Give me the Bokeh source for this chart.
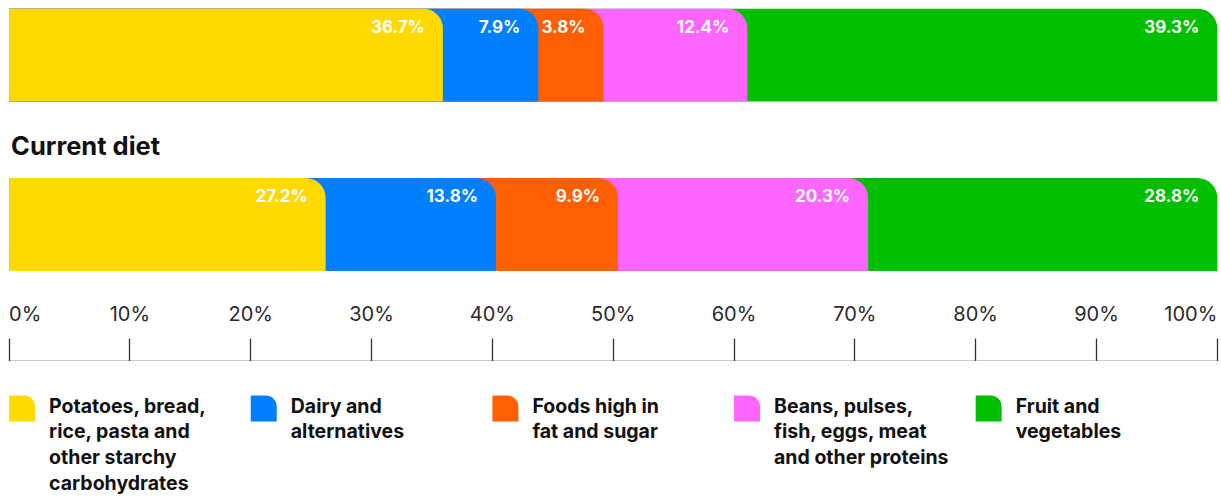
import numpy as np
from bokeh.plotting import figure
from bokeh.models import Range1d, ColumnDataSource, FixedTicker
from bokeh.layouts import column
from bokeh.embed import file_html
from bokeh.resources import INLINE
from bokeh.core.properties import value

# ---------------- data ----------------
categories = [
    "Potatoes, bread,\nrice, pasta and\nother starchy\ncarbohydrates",
    "Dairy and\nalternatives",
    "Foods high in\nfat and sugar",
    "Beans, pulses,\nfish, eggs, meat\nand other proteins",
    "Fruit and\nvegetables",
]
colors = ["#FFD900", "#0080FF", "#FF5F00", "#FF66FF", "#00BF00"]
# printed percentages
recommended = [36.7, 7.9, 3.8, 12.4, 39.3]
current = [27.2, 13.8, 9.9, 20.3, 28.8]
# segment widths as drawn in the picture (percent of the axis)
recommended_drawn = [35.9, 7.9, 5.4, 11.9, 38.9]
current_drawn = [26.2, 14.1, 10.1, 20.7, 28.9]
row_titles = ["", "Current diet"]
tick_values = [0, 10, 20, 30, 40, 50, 60, 70, 80, 90, 100]
tick_labels = ["0%", "10%", "20%", "30%", "40%", "50%", "60%", "70%", "80%", "90%", "100%"]
legend_positions = [0, 20, 40, 60, 80]

# ---------------- layout ----------------
FONT = "Inter"
W = 1210
X0, X1 = -0.05, 100.1
SCALE = W / (X1 - X0)          # px per percent
A_H = 353
B_H = 136
BAR_H = 93
row_tops = [A_H, A_H - 169.5]

xr = Range1d(X0, X1)

pa = figure(frame_width=W, frame_height=A_H, x_range=xr, y_range=Range1d(0, A_H),
            output_backend="svg", toolbar_location=None, min_border=0,
            min_border_left=8, min_border_right=2, min_border_top=8,
            x_axis_location="below", y_axis_location=None, outline_line_color=None)
pa.grid.visible = False
ax = pa.xaxis[0]
ax.ticker = FixedTicker(ticks=tick_values)
ax.major_tick_in = 23
ax.major_tick_out = 0
ax.minor_tick_line_color = None
ax.major_label_overrides = {t: "" for t in tick_values}
ax.major_label_text_font_size = "1px"
ax.major_label_standoff = 0
ax.axis_line_color = "#333333"
ax.axis_line_width = 1.3
ax.major_tick_line_color = "#333333"
ax.major_tick_line_width = 1.3

for vals, drawn, top, title in zip([recommended, current], [recommended_drawn, current_drawn],
                                   row_tops, row_titles):
    cum = np.cumsum(drawn)
    src = ColumnDataSource(dict(
        left=[0.0] * len(drawn),
        right=list(cum[::-1]),
        top=[top] * len(drawn),
        bottom=[top - BAR_H] * len(drawn),
        color=colors[::-1],
    ))
    pa.quad(left="left", right="right", top="top", bottom="bottom", fill_color="color",
            line_color=None, border_radius=(0, 20, 0, 0), source=src)
    pa.text(x=list(cum), y=[top - 8] * len(vals), text=[f"{v:.1f}%" for v in vals],
            x_offset=-18, text_align="right", text_baseline="top",
            text_color="white", text_font=value(FONT), text_font_style="bold",
            text_font_size="17px")
    if title:
        pa.text(x=[0], y=[top + 48.5], text=[title], x_offset=2, text_align="left",
                text_baseline="top", text_color="#111111", text_font=value(FONT),
                text_font_style="bold", text_font_size="25.5px")

# tick labels (first left-aligned, last right-aligned, others centred)
lab_y = 59.5
TICK_COLOR = "#2a2a2a"
pa.text(x=tick_values[:1], y=[lab_y], text=tick_labels[:1], text_align="left",
        text_baseline="top", text_color=TICK_COLOR, text_font=value(FONT),
        text_font_size="20px")
pa.text(x=tick_values[1:-1], y=[lab_y] * (len(tick_values) - 2), text=tick_labels[1:-1],
        text_align="center", text_baseline="top", text_color=TICK_COLOR,
        text_font=value(FONT), text_font_size="20px")
pa.text(x=tick_values[-1:], y=[lab_y], text=tick_labels[-1:], text_align="right",
        text_baseline="top", text_color=TICK_COLOR, text_font=value(FONT),
        text_font_size="20px")

# ---------------- legend ----------------
pb = figure(frame_width=W, frame_height=B_H, x_range=xr, y_range=Range1d(0, B_H),
            output_backend="svg", toolbar_location=None, min_border=0,
            min_border_left=8, min_border_right=2,
            x_axis_location=None, y_axis_location=None, outline_line_color=None)
pb.grid.visible = False
SQ = 26 / SCALE
sq_top = B_H - 34
lsrc = ColumnDataSource(dict(
    left=legend_positions,
    right=[x + SQ for x in legend_positions],
    top=[sq_top] * 5,
    bottom=[sq_top - 26] * 5,
    color=colors,
    label=categories,
))
pb.quad(left="left", right="right", top="top", bottom="bottom", fill_color="color",
        line_color=None, border_radius=(0, 11, 0, 0), source=lsrc)
pb.text(x="left", y="top", text="label", x_offset=40, y_offset=-2, source=lsrc,
        text_align="left", text_baseline="top", text_color="#111111",
        text_font=value(FONT), text_font_style="bold", text_font_size="19.5px",
        text_line_height=1.08)

layout = column(pa, pb, spacing=0)
open("out.html", "w").write(file_html(layout, INLINE))
